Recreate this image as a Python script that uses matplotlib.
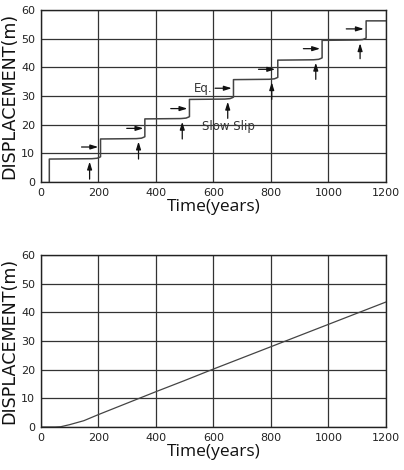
import matplotlib
matplotlib.use("Agg")
import matplotlib.pyplot as plt
import numpy as np

# ---- data ----
start_time = 30
eq_times = [208, 362, 517, 670, 824, 978, 1131]
levels = [8.0, 15.0, 22.0, 28.8, 35.7, 42.5, 49.4, 56.2]
slow_slip_gain = [0.8, 0.8, 0.8, 0.8, 0.8, 0.8, 0.8]
end_time = 1200

eq_arrow_start = [142, 299, 452, 606, 757, 913, 1062]
eq_arrow_end = [200, 357, 510, 664, 815, 971, 1123]
eq_arrow_y = [12.2, 18.7, 25.6, 32.7, 39.3, 46.5, 53.4]

ss_arrow_x = [170, 340, 492, 650, 803, 956, 1110]
ss_arrow_tail = [1.0, 8.0, 15.0, 22.2, 28.8, 35.8, 43.0]
ss_arrow_tip = [7.1, 14.1, 21.0, 28.0, 34.8, 41.6, 48.4]

creep_t = [0, 50, 70, 100, 150, 200, 250, 300, 350, 400, 500, 600, 700, 800, 900, 1000, 1100, 1200]
creep_d = [0, 0, 0.1, 0.8, 2.2, 4.3, 6.3, 8.3, 10.3, 12.3, 16.2, 20.2, 24.1, 28.0, 31.9, 35.8, 39.7, 43.6]

xticks = [0, 200, 400, 600, 800, 1000, 1200]
yticks = [0, 10, 20, 30, 40, 50, 60]

# ---- build step line ----
xs = [start_time, start_time]
ys = [0, levels[0]]
for i, tj in enumerate(eq_times):
    L = levels[i]
    g = slow_slip_gain[i]
    xs += [tj - 30, tj - 12, tj - 4, tj]
    ys += [L + 0.15 * g, L + 0.35 * g, L + 0.75 * g, L + g]
    xs += [tj]
    ys += [levels[i + 1]]
xs += [end_time]
ys += [levels[-1]]

fig = plt.figure(figsize=(4.04, 4.70), dpi=100)
ax1 = fig.add_axes([0.1007, 0.6128, 0.8547, 0.366])
ax2 = fig.add_axes([0.1007, 0.0915, 0.8547, 0.366])

line_c = "#444444"
grid_c = "#333333"

for ax in (ax1, ax2):
    ax.set_xlim(0, 1200)
    ax.set_ylim(0, 60)
    ax.set_xticks(xticks)
    ax.set_yticks(yticks)
    ax.tick_params(labelsize=8, length=0, pad=4, colors="#222222")
    ax.grid(True, color=grid_c, linewidth=0.9)
    ax.set_axisbelow(True)
    for s in ax.spines.values():
        s.set_color("#222222")
        s.set_linewidth(1.0)
    ax.set_xlabel("Time(years)", fontsize=12.5, family="Open Sans", labelpad=1, color="#111111")
    ax.set_ylabel("DISPLACEMENT(m)", fontsize=12.6, family="DejaVu Sans", labelpad=2, color="#111111")

ax1.plot(xs, ys, color=line_c, linewidth=1.1)
ax2.plot(creep_t, creep_d, color=line_c, linewidth=0.9)

ap = dict(arrowstyle="-|>,head_length=0.45,head_width=0.14", color="#111111", lw=0.9, shrinkA=0, shrinkB=0)
for x0, x1, y in zip(eq_arrow_start, eq_arrow_end, eq_arrow_y):
    ax1.annotate("", xy=(x1, y), xytext=(x0, y), arrowprops=ap)
for x, y0, y1 in zip(ss_arrow_x, ss_arrow_tail, ss_arrow_tip):
    ax1.annotate("", xy=(x, y1), xytext=(x, y0), arrowprops=ap)

ax1.text(598, 32.7, "Eq.", fontsize=8.5, ha="right", va="center", color="#333333")
ax1.text(652, 19.3, "Slow Slip", fontsize=8.5, ha="center", va="center", color="#333333")

fig.savefig("out.png", dpi=100)
